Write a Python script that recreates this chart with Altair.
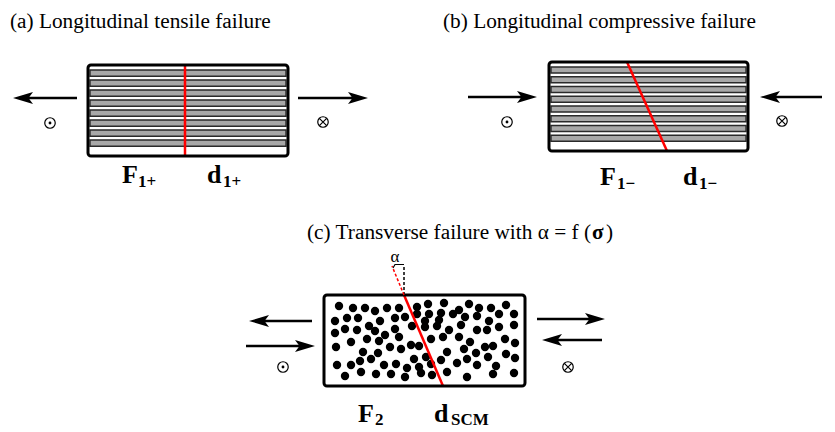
import altair as alt
import pandas as pd

W, H = 835, 432

# Specimen outlines (left, right, top, bottom) for panels a, b, c
box_x0 = [88, 549, 324]
box_x1 = [288, 748, 525]
box_y0 = [65, 62, 295]
box_y1 = [156, 151, 386]

# Fibre layers drawn as grey bands in the two longitudinal specimens
n_bands = 8

# Fracture planes (red) drawn across each specimen
crack_x0 = [185, 627, 404]
crack_y0 = [65, 62, 295]
crack_x1 = [185, 667, 443]
crack_y1 = [156, 151, 386]

# Fibre cross-sections in the transverse specimen
dot_x = [339, 353, 365, 375, 387, 399, 417, 428, 441, 444, 459, 469, 479, 491, 506, 514,
         335, 347, 358, 380, 395, 405, 417, 429, 453, 465, 477, 499, 425, 439, 489,
         335, 345, 357, 369, 375, 385, 395, 412, 425, 437, 449, 461, 477, 487, 499, 514, 505,
         351, 367, 379, 399, 431, 443, 459, 470, 419, 411, 390, 336, 485, 493, 515,
         363, 378, 401, 426, 447, 464, 476, 506, 515, 371, 414, 441, 488,
         337, 351, 360, 384, 396, 407, 419, 431, 457, 467, 477, 496,
         345, 361, 376, 391, 405, 421, 432, 447, 467, 493, 514]
dot_y = [306, 308, 308, 311, 308, 308, 307, 304, 313, 303, 310, 304, 308, 308, 305, 314,
         321, 318, 318, 321, 318, 317, 314, 314, 314, 317, 316, 314, 321, 320, 321,
         333, 329, 330, 326, 331, 335, 329, 326, 327, 326, 330, 325, 330, 330, 327, 325, 339,
         342, 339, 341, 337, 339, 337, 337, 342, 346, 345, 347, 347, 347, 346, 343,
         352, 353, 349, 357, 352, 349, 353, 354, 358, 359, 359, 360, 357,
         365, 365, 361, 365, 364, 368, 367, 364, 363, 359, 365, 366,
         376, 372, 374, 374, 377, 373, 375, 372, 377, 374, 373]

# Load arrows: tail x, tip x, y
arrow_tail = [77, 298, 468, 822, 312, 246, 537, 602]
arrow_tip = [13, 368, 537, 760, 249, 315, 605, 542]
arrow_y = [98, 98, 97, 97, 321, 346, 319, 340]

# Out-of-plane symbols
odot_x = [50, 507, 283]
odot_y = [123, 122, 367]
otimes_x = [323, 782, 568]
otimes_y = [122, 121, 367]

SERIF = "Liberation Serif"


def X(f="x"):
    return alt.X(f"{f}:Q", scale=alt.Scale(domain=[0, W], nice=False, zero=False), axis=None)


def Y(f="y"):
    return alt.Y(f"{f}:Q", scale=alt.Scale(domain=[0, H], nice=False, zero=False, reverse=True), axis=None)


boxes = pd.DataFrame({"x0": box_x0, "x1": box_x1, "y0": box_y0, "y1": box_y1})

bands = []
for i in range(2):
    top, bot = box_y0[i] + 5, box_y1[i] - 6
    step = (bot - top) / n_bands
    for k in range(n_bands):
        y0 = top + k * step
        bands.append({"x0": box_x0[i] + 2, "x1": box_x1[i] - 2, "y0": y0, "y1": y0 + 0.62 * step})
bands = pd.DataFrame(bands)

box_fill = alt.Chart(boxes).mark_rect(fill="white", cornerRadius=3).encode(
    x=X("x0"), x2="x1", y=Y("y0"), y2="y1")
band_layer = alt.Chart(bands).mark_rect(fill="#a8a8a8", stroke="#2a2a2a", strokeWidth=1.4).encode(
    x=X("x0"), x2="x1", y=Y("y0"), y2="y1")
box_line = alt.Chart(boxes).mark_rect(fillOpacity=0, stroke="black", strokeWidth=3, cornerRadius=3).encode(
    x=X("x0"), x2="x1", y=Y("y0"), y2="y1")

dots = alt.Chart(pd.DataFrame({"x": dot_x, "y": dot_y})).mark_point(
    shape="circle", filled=True, color="black", size=70, opacity=1).encode(x=X(), y=Y())

cracks = alt.Chart(pd.DataFrame({"x0": crack_x0, "y0": crack_y0, "x1": crack_x1, "y1": crack_y1})).mark_rule(
    color="#ff0000", strokeWidth=2.5).encode(x=X("x0"), y=Y("y0"), x2="x1", y2="y1")

# Angle annotation above the transverse specimen
ref_dash = alt.Chart(pd.DataFrame({"x0": [404], "y0": [295], "x1": [404], "y1": [266]})).mark_rule(
    color="black", strokeWidth=1.5, strokeDash=[3, 2]).encode(x=X("x0"), y=Y("y0"), x2="x1", y2="y1")
crack_ext = alt.Chart(pd.DataFrame({"x0": [404], "y0": [295], "x1": [392], "y1": [266]})).mark_rule(
    color="#ff0000", strokeWidth=1.5, strokeDash=[3, 2]).encode(x=X("x0"), y=Y("y0"), x2="x1", y2="y1")
arc = alt.Chart(pd.DataFrame({"x": [393, 395, 404], "y": [268, 264.5, 264.5], "o": [0, 1, 2]})).mark_line(
    color="black", strokeWidth=1.2).encode(x=X(), y=Y(), order="o:Q")

arrows = pd.DataFrame({"t": arrow_tail, "h": arrow_tip, "y": arrow_y})
arrows["right"] = arrows["h"] > arrows["t"]
arrows["shaft_end"] = arrows["h"] - arrows["right"].map({True: 10, False: -10})
arrows["head_c"] = arrows["h"] - arrows["right"].map({True: 10, False: -10})

shafts = alt.Chart(arrows).mark_rule(color="black", strokeWidth=2.5).encode(
    x=X("t"), x2="shaft_end", y=Y("y"))
head_r = alt.Chart(arrows[arrows["right"]]).mark_point(
    shape="M1,0L-1,-0.6L-0.55,0L-1,0.6Z", filled=True, color="black", size=400, opacity=1).encode(
    x=X("head_c"), y=Y("y"))
head_l = alt.Chart(arrows[~arrows["right"]]).mark_point(
    shape="M-1,0L1,-0.6L0.55,0L1,0.6Z", filled=True, color="black", size=400, opacity=1).encode(
    x=X("head_c"), y=Y("y"))

od = pd.DataFrame({"x": odot_x, "y": odot_y})
ot = pd.DataFrame({"x": otimes_x, "y": otimes_y})
ring_df = pd.concat([od, ot])
rings = alt.Chart(ring_df).mark_point(shape="circle", filled=False, color="black", size=110,
                                      strokeWidth=1.2, opacity=1).encode(x=X(), y=Y())
centres = alt.Chart(od).mark_point(shape="circle", filled=True, color="black", size=8, opacity=1).encode(
    x=X(), y=Y())
crosses = alt.Chart(ot).mark_point(shape="M-0.7,-0.7L0.7,0.7M-0.7,0.7L0.7,-0.7", filled=False,
                                   color="black", size=110, strokeWidth=1.2, opacity=1).encode(x=X(), y=Y())

# Panel captions
captions = pd.DataFrame({
    "x": [10, 443],
    "y": [28, 28],
    "t": ["(a) Longitudinal tensile failure", "(b) Longitudinal compressive failure"],
})
cap_layer = alt.Chart(captions).mark_text(font=SERIF, fontSize=21.3, align="left", baseline="alphabetic",
                                          color="black").encode(x=X(), y=Y(), text="t:N")
cap_c1 = alt.Chart(pd.DataFrame({"x": [591], "y": [239], "t": ["(c) Transverse failure with \u03b1 = f ("]})).mark_text(
    font=SERIF, fontSize=21.3, align="right", baseline="alphabetic", color="black").encode(x=X(), y=Y(), text="t:N")
cap_c2 = alt.Chart(pd.DataFrame({"x": [592], "y": [239], "t": ["\u03c3"]})).mark_text(
    font=SERIF, fontSize=21.3, fontWeight="bold", align="left", baseline="alphabetic", color="black").encode(
    x=X(), y=Y(), text="t:N")
cap_c3 = alt.Chart(pd.DataFrame({"x": [606], "y": [239], "t": [")"]})).mark_text(
    font=SERIF, fontSize=21.3, align="left", baseline="alphabetic", color="black").encode(x=X(), y=Y(), text="t:N")

alpha_lbl = alt.Chart(pd.DataFrame({"x": [395], "y": [262], "t": ["\u03b1"]})).mark_text(
    font=SERIF, fontSize=17, align="center", baseline="alphabetic", color="black").encode(x=X(), y=Y(), text="t:N")

# Bold symbols and their subscripts under each specimen
main_sym = pd.DataFrame({
    "x": [122, 207, 600, 683, 358, 434],
    "y": [183, 183, 185, 185, 422, 422],
    "t": ["F", "d", "F", "d", "F", "d"],
})
sub_sym = pd.DataFrame({
    "x": [138, 223, 617, 699, 375, 451],
    "y": [187, 187, 189, 189, 425, 425],
    "t": ["1+", "1+", "1\u2212", "1\u2212", "2", "SCM"],
})
main_layer = alt.Chart(main_sym).mark_text(font=SERIF, fontSize=26, fontWeight="bold", align="left",
                                           baseline="alphabetic", color="black").encode(x=X(), y=Y(), text="t:N")
sub_layer = alt.Chart(sub_sym).mark_text(font=SERIF, fontSize=17, fontWeight="bold", align="left",
                                         baseline="alphabetic", color="black").encode(x=X(), y=Y(), text="t:N")

chart = alt.layer(
    box_fill, band_layer, dots, cracks, box_line, ref_dash, crack_ext, arc,
    shafts, head_r, head_l, rings, centres, crosses,
    cap_layer, cap_c1, cap_c2, cap_c3, alpha_lbl, main_layer, sub_layer,
).properties(
    width=W, height=H, padding=0, autosize=alt.AutoSizeParams(type="none"), background="white"
).configure_view(stroke=None)

chart.save("out.html", embed_options={"renderer": "svg", "actions": False})
